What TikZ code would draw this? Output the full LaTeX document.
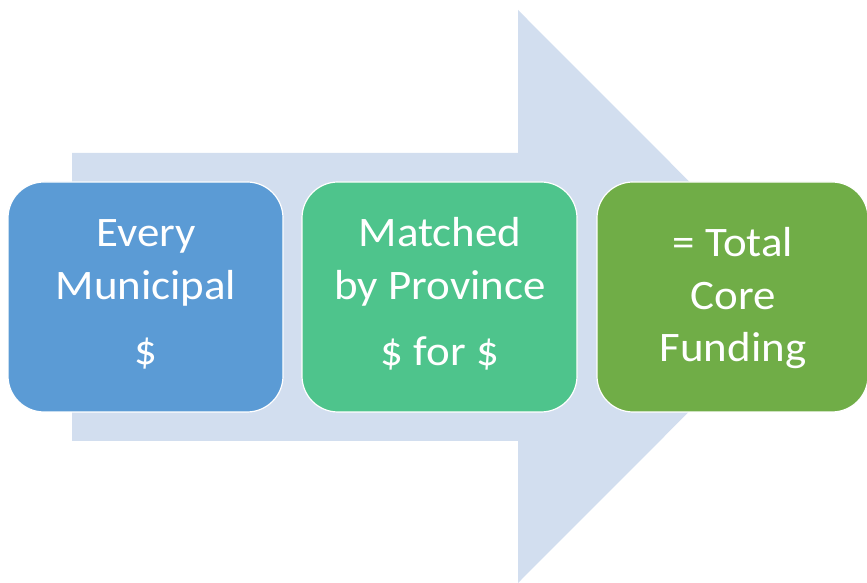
\documentclass[tikz,border=0pt]{standalone}
\usepackage{fontspec}
\newfontfamily\boxfont[FakeStretch=1.07]{Carlito}
\definecolor{arrowfill}{HTML}{D2DEEF}
\definecolor{stepblue}{HTML}{5B9BD5}
\definecolor{steptgreen}{HTML}{4EC48C}
\definecolor{stepgreen}{HTML}{70AD47}
\begin{document}
\begin{tikzpicture}[x=1pt,y=1pt,
  stepbox/.style={draw=white, line width=1.2pt, rounded corners=36pt,
    minimum height=230pt, inner sep=0pt},
  steptext/.style={anchor=base, text=white, inner sep=0pt,
    font=\boxfont\fontsize{42pt}{50pt}\selectfont}]
  \useasboundingbox (0,0) rectangle (867,583);
  % broad background arrow
  \fill[arrowfill] (72,430) -- (518,430) -- (518,573) -- (804,286.5)
    -- (518,0) -- (518,142) -- (72,142) -- cycle;
  % three stages
  \node[stepbox, fill=stepblue, minimum width=275pt] (b1) at (145.5,286) {};
  \node[stepbox, fill=steptgreen, minimum width=275pt] (b2) at (439.5,286) {};
  \node[stepbox, fill=stepgreen, minimum width=271pt] (b3) at (732.5,286) {};
  % stage texts
  \node[steptext] (t11) at (146,336.3) {Every};
  \node[steptext] (t12) at (146,283) {Municipal};
  \node[steptext] (t13) at (146,218) {\$};
  \node[steptext] (t21) at (440,336.3) {Matched};
  \node[steptext] (t22) at (440,283) {by Province};
  \node[steptext] (t23) at (440,217) {\$ for \$};
  \node[steptext] (t31) at (733,326.3) {= Total};
  \node[steptext] (t32) at (733,273) {Core};
  \node[steptext] (t33) at (733,221.3) {Funding};
\end{tikzpicture}
\end{document}
